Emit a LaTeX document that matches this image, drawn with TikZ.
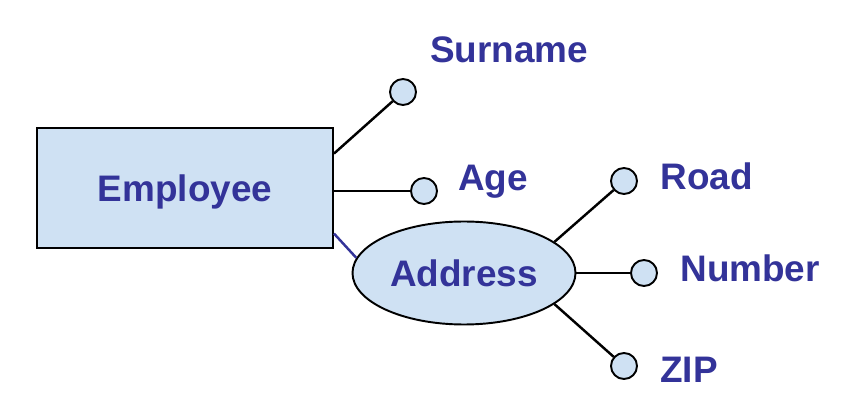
\documentclass[tikz,border=0pt]{standalone}
\usepackage{fontspec}
\setmainfont{Liberation Sans}
\usetikzlibrary{shapes.geometric}
\definecolor{erblue}{HTML}{333399}
\definecolor{erfill}{HTML}{CFE1F3}
\tikzset{
    labelfont/.style={text=erblue, font=\fontsize{21}{25}\selectfont\bfseries},
    entity/.style={draw, line width=1.1pt, fill=erfill, minimum width=5.92cm, minimum height=2.4cm, text depth=0pt, labelfont},
    compound/.style={ellipse, draw, line width=1.1pt, fill=erfill, minimum width=4.46cm, minimum height=2.06cm, inner sep=0pt, text depth=0pt, labelfont},
    attr/.style={circle, draw, line width=1.1pt, fill=erfill, minimum size=0.52cm, inner sep=0pt},
    attrname/.style={anchor=base west, inner sep=0pt, labelfont},
    link/.style={line width=1.4pt}
}
\begin{document}
\begin{tikzpicture}
    \useasboundingbox (0,0) rectangle (16.88,8.08);

    % Entity and composite attribute
    \node[entity] (emp) at (3.70,4.32) {Employee};
    \node[compound] (addr) at (9.28,2.62) {Address};

    % Simple attributes
    \node[attr] (sur) at (8.06,6.24) {};
    \node[attr] (age) at (8.48,4.26) {};
    \node[attr] (road) at (12.48,4.46) {};
    \node[attr] (num) at (12.88,2.62) {};
    \node[attr] (zip) at (12.48,0.76) {};

    % Attribute names
    \node[attrname] (surname) at (8.60,6.82) {Surname};
    \node[attrname] (agename) at (9.16,4.26) {Age};
    \node[attrname] (roadname) at (13.20,4.28) {Road};
    \node[attrname] (numname) at (13.60,2.44) {Number};
    \node[attrname] (zipname) at (13.20,0.42) {ZIP};

    % Links
    \draw[link] (emp.13) -- (sur);
    \draw[link] (emp.east |- age) -- (age);
    \draw[link, erblue] (emp.-17) -- (addr.172);
    \draw[link] (addr.19) -- (road);
    \draw[link] (addr.east) -- (num);
    \draw[link] (addr.-19) -- (zip);
\end{tikzpicture}
\end{document}
